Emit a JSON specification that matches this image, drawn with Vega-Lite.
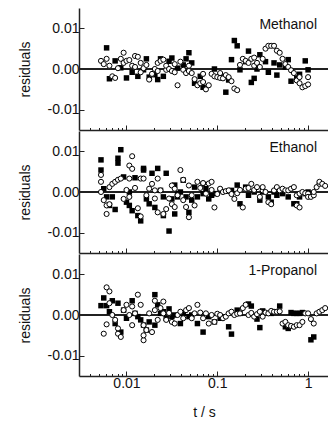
{
"$schema":"https://vega.github.io/schema/vega-lite/v6.json",
"padding":{"left":18,"top":8,"right":0,"bottom":0},
"spacing":0,
"config":{"font":"Liberation Sans","view":{"stroke":null},
"axis":{"grid":false,"labelFontSize":14,"titleFontSize":14,"labelColor":"#111","titleColor":"#111","titleFontWeight":"normal","domainColor":"#222","domainWidth":1.5,"tickColor":"#222","tickWidth":1},
"title":{"fontSize":14,"fontWeight":"normal","color":"#111"}},
"datasets":{
"methanol":[
{"s":"c","t":0.00524,"r":0.002},{"s":"c","t":0.00562,"r":0.0012},{"s":"c","t":0.00604,"r":0.0025},{"s":"c","t":0.00649,"r":0.0008},{"s":"c","t":0.00698,"r":-0.0018},{"s":"c","t":0.0075,"r":-0.0022},{"s":"c","t":0.00806,"r":0.0002},{"s":"c","t":0.00866,"r":0.0025},{"s":"c","t":0.0093,"r":0.004},{"s":"c","t":0.0093,"r":0.0015},{"s":"c","t":0.01,"r":0.002},{"s":"c","t":0.01075,"r":0.0022},{"s":"c","t":0.01155,"r":0.0008},{"s":"c","t":0.01242,"r":0.0032},{"s":"c","t":0.01242,"r":0.0005},{"s":"c","t":0.01334,"r":0.003},{"s":"c","t":0.01434,"r":-0.0008},{"s":"c","t":0.01434,"r":0.0015},{"s":"c","t":0.01542,"r":0.0002},{"s":"c","t":0.01657,"r":0.001},{"s":"c","t":0.01778,"r":-0.0026},{"s":"c","t":0.01911,"r":-0.0012},{"s":"c","t":0.02054,"r":0.0},{"s":"c","t":0.02207,"r":0.0015},{"s":"c","t":0.02207,"r":-0.0005},{"s":"c","t":0.02371,"r":0.002},{"s":"c","t":0.02548,"r":0.0023},{"s":"c","t":0.02738,"r":-0.0002},{"s":"c","t":0.02738,"r":0.0008},{"s":"c","t":0.02943,"r":0.0},{"s":"c","t":0.03162,"r":-0.0005},{"s":"c","t":0.03398,"r":-0.0008},{"s":"c","t":0.03398,"r":0.0012},{"s":"c","t":0.03652,"r":-0.004},{"s":"c","t":0.03924,"r":0.0018},{"s":"c","t":0.04217,"r":-0.0002},{"s":"c","t":0.04532,"r":-0.001},{"s":"c","t":0.0487,"r":-0.0005},{"s":"c","t":0.0487,"r":0.0008},{"s":"c","t":0.05233,"r":-0.001},{"s":"c","t":0.05623,"r":-0.0025},{"s":"c","t":0.06043,"r":-0.004},{"s":"c","t":0.06494,"r":-0.0035},{"s":"c","t":0.06978,"r":-0.0032},{"s":"c","t":0.06978,"r":-0.0012},{"s":"c","t":0.07499,"r":-0.005},{"s":"c","t":0.08058,"r":-0.004},{"s":"c","t":0.0866,"r":-0.0012},{"s":"c","t":0.09306,"r":-0.0018},{"s":"c","t":0.1,"r":-0.002},{"s":"c","t":0.1075,"r":-0.001},{"s":"c","t":0.1075,"r":-0.0022},{"s":"c","t":0.1155,"r":-0.0023},{"s":"c","t":0.1242,"r":-0.0015},{"s":"c","t":0.1334,"r":-0.002},{"s":"c","t":0.1434,"r":-0.003},{"s":"c","t":0.1542,"r":-0.0048},{"s":"c","t":0.1657,"r":-0.0052},{"s":"c","t":0.1778,"r":0.001},{"s":"c","t":0.1911,"r":0.0025},{"s":"c","t":0.2054,"r":0.002},{"s":"c","t":0.2207,"r":0.0015},{"s":"c","t":0.2371,"r":0.0025},{"s":"c","t":0.2548,"r":0.0028},{"s":"c","t":0.2548,"r":0.0008},{"s":"c","t":0.2738,"r":0.0015},{"s":"c","t":0.2943,"r":0.0005},{"s":"c","t":0.3162,"r":0.0025},{"s":"c","t":0.3398,"r":0.005},{"s":"c","t":0.3652,"r":0.0057},{"s":"c","t":0.3924,"r":0.0057},{"s":"c","t":0.4217,"r":0.0057},{"s":"c","t":0.4532,"r":0.0045},{"s":"c","t":0.487,"r":0.004},{"s":"c","t":0.5233,"r":0.0025},{"s":"c","t":0.5623,"r":0.0012},{"s":"c","t":0.6043,"r":0.0005},{"s":"c","t":0.6494,"r":-0.0003},{"s":"c","t":0.6978,"r":-0.001},{"s":"c","t":0.7499,"r":-0.0028},{"s":"c","t":0.8058,"r":-0.0035},{"s":"c","t":0.8058,"r":-0.002},{"s":"c","t":0.866,"r":-0.0045},{"s":"c","t":0.9306,"r":-0.0042},{"s":"c","t":1.0,"r":-0.0038},{"s":"c","t":1.0,"r":-0.002},
{"s":"q","t":0.00604,"r":0.0052},{"s":"q","t":0.00649,"r":-0.0024},{"s":"q","t":0.0075,"r":0.002},{"s":"q","t":0.00866,"r":0.0003},{"s":"q","t":0.01,"r":-0.0022},{"s":"q","t":0.01155,"r":-0.0008},{"s":"q","t":0.01334,"r":-0.0018},{"s":"q","t":0.01542,"r":-0.0002},{"s":"q","t":0.01657,"r":0.0025},{"s":"q","t":0.01778,"r":-0.002},{"s":"q","t":0.02054,"r":-0.0014},{"s":"q","t":0.02207,"r":-0.0026},{"s":"q","t":0.02371,"r":0.0025},{"s":"q","t":0.02548,"r":-0.0018},{"s":"q","t":0.02943,"r":0.0019},{"s":"q","t":0.03162,"r":0.0027},{"s":"q","t":0.03652,"r":0.0002},{"s":"q","t":0.04217,"r":0.001},{"s":"q","t":0.04532,"r":0.0025},{"s":"q","t":0.0487,"r":0.004},{"s":"q","t":0.05233,"r":0.0015},{"s":"q","t":0.05623,"r":-0.0035},{"s":"q","t":0.06494,"r":-0.0018},{"s":"q","t":0.06978,"r":-0.0045},{"s":"q","t":0.09306,"r":0.0},{"s":"q","t":0.1075,"r":-0.0015},{"s":"q","t":0.1242,"r":-0.0057},{"s":"q","t":0.1334,"r":-0.0027},{"s":"q","t":0.1434,"r":0.0023},{"s":"q","t":0.1542,"r":0.007},{"s":"q","t":0.1657,"r":0.0057},{"s":"q","t":0.1778,"r":-0.0002},{"s":"q","t":0.2054,"r":0.0018},{"s":"q","t":0.2207,"r":0.0044},{"s":"q","t":0.2371,"r":-0.0033},{"s":"q","t":0.2548,"r":-0.0023},{"s":"q","t":0.2738,"r":0.0},{"s":"q","t":0.2943,"r":0.0035},{"s":"q","t":0.3398,"r":0.0018},{"s":"q","t":0.3652,"r":-0.0008},{"s":"q","t":0.4217,"r":0.0015},{"s":"q","t":0.4532,"r":-0.0015},{"s":"q","t":0.487,"r":0.001},{"s":"q","t":0.5623,"r":0.0005},{"s":"q","t":0.6043,"r":0.0023},{"s":"q","t":0.6494,"r":-0.003},{"s":"q","t":0.7499,"r":-0.0022},{"s":"q","t":0.8058,"r":-0.0013},{"s":"q","t":0.9306,"r":0.002},{"s":"q","t":1.0,"r":-0.0002}
],
"ethanol":[
{"s":"c","t":0.00524,"r":0.0042},{"s":"c","t":0.00524,"r":0.0025},{"s":"c","t":0.00524,"r":0.0},{"s":"c","t":0.00562,"r":-0.002},{"s":"c","t":0.00604,"r":-0.0033},{"s":"c","t":0.00604,"r":-0.0054},{"s":"c","t":0.00649,"r":-0.003},{"s":"c","t":0.00649,"r":0.0012},{"s":"c","t":0.00698,"r":0.002},{"s":"c","t":0.0075,"r":0.0025},{"s":"c","t":0.00806,"r":0.003},{"s":"c","t":0.00866,"r":0.0033},{"s":"c","t":0.0093,"r":-0.0017},{"s":"c","t":0.01,"r":0.0005},{"s":"c","t":0.01075,"r":-0.0012},{"s":"c","t":0.01075,"r":0.0033},{"s":"c","t":0.01075,"r":0.0065},{"s":"c","t":0.01155,"r":0.0057},{"s":"c","t":0.01155,"r":0.0088},{"s":"c","t":0.01242,"r":0.001},{"s":"c","t":0.01334,"r":-0.004},{"s":"c","t":0.01434,"r":-0.006},{"s":"c","t":0.01434,"r":0.0033},{"s":"c","t":0.01542,"r":0.0033},{"s":"c","t":0.01657,"r":-0.0008},{"s":"c","t":0.01778,"r":0.0008},{"s":"c","t":0.01911,"r":0.002},{"s":"c","t":0.02054,"r":0.0004},{"s":"c","t":0.02054,"r":-0.0016},{"s":"c","t":0.02207,"r":0.0033},{"s":"c","t":0.02207,"r":-0.005},{"s":"c","t":0.02371,"r":0.0004},{"s":"c","t":0.02548,"r":-0.0054},{"s":"c","t":0.02738,"r":-0.0042},{"s":"c","t":0.02943,"r":-0.0016},{"s":"c","t":0.03162,"r":0.0016},{"s":"c","t":0.03162,"r":-0.003},{"s":"c","t":0.03398,"r":0.0008},{"s":"c","t":0.03398,"r":-0.0037},{"s":"c","t":0.03652,"r":-0.0008},{"s":"c","t":0.03924,"r":0.0054},{"s":"c","t":0.04217,"r":0.003},{"s":"c","t":0.04217,"r":-0.002},{"s":"c","t":0.04532,"r":-0.0037},{"s":"c","t":0.0487,"r":-0.0062},{"s":"c","t":0.0487,"r":0.0016},{"s":"c","t":0.05233,"r":-0.0008},{"s":"c","t":0.05623,"r":-0.0033},{"s":"c","t":0.06043,"r":0.0025},{"s":"c","t":0.06494,"r":0.001},{"s":"c","t":0.06978,"r":0.0021},{"s":"c","t":0.06978,"r":0.0022},{"s":"c","t":0.07499,"r":-0.0004},{"s":"c","t":0.08058,"r":0.0021},{"s":"c","t":0.0866,"r":0.0025},{"s":"c","t":0.0866,"r":0.0005},{"s":"c","t":0.09306,"r":-0.0038},{"s":"c","t":0.1,"r":-0.0005},{"s":"c","t":0.1075,"r":0.0008},{"s":"c","t":0.1155,"r":0.0},{"s":"c","t":0.1242,"r":0.0002},{"s":"c","t":0.1334,"r":0.0004},{"s":"c","t":0.1434,"r":-0.0005},{"s":"c","t":0.1542,"r":-0.0017},{"s":"c","t":0.1657,"r":-0.0003},{"s":"c","t":0.1778,"r":0.0005},{"s":"c","t":0.1911,"r":-0.0038},{"s":"c","t":0.2054,"r":0.0008},{"s":"c","t":0.2207,"r":0.001},{"s":"c","t":0.2371,"r":0.002},{"s":"c","t":0.2548,"r":0.0005},{"s":"c","t":0.2738,"r":0.0012},{"s":"c","t":0.2943,"r":-0.0012},{"s":"c","t":0.3162,"r":0.0004},{"s":"c","t":0.3162,"r":0.0012},{"s":"c","t":0.3398,"r":0.0},{"s":"c","t":0.3652,"r":-0.0025},{"s":"c","t":0.3924,"r":-0.003},{"s":"c","t":0.4217,"r":0.0004},{"s":"c","t":0.4532,"r":0.0012},{"s":"c","t":0.487,"r":0.0004},{"s":"c","t":0.5233,"r":0.0008},{"s":"c","t":0.5623,"r":0.0004},{"s":"c","t":0.6043,"r":0.0004},{"s":"c","t":0.6494,"r":0.0008},{"s":"c","t":0.6978,"r":0.0012},{"s":"c","t":0.7499,"r":-0.0008},{"s":"c","t":0.7499,"r":-0.0033},{"s":"c","t":0.8058,"r":-0.0038},{"s":"c","t":0.8058,"r":-0.0004},{"s":"c","t":0.866,"r":0.0},{"s":"c","t":0.9306,"r":-0.0003},{"s":"c","t":1.0,"r":-0.0004},{"s":"c","t":1.0,"r":-0.0012},{"s":"c","t":1.075,"r":-0.0012},{"s":"c","t":1.155,"r":-0.0008},{"s":"c","t":1.155,"r":0.0},{"s":"c","t":1.242,"r":0.0012},{"s":"c","t":1.334,"r":0.002},{"s":"c","t":1.334,"r":0.0025},{"s":"c","t":1.434,"r":0.002},{"s":"c","t":1.542,"r":0.0015},
{"s":"q","t":0.00524,"r":0.0079},{"s":"q","t":0.00524,"r":0.0054},{"s":"q","t":0.00562,"r":0.0008},{"s":"q","t":0.00604,"r":-0.0012},{"s":"q","t":0.00649,"r":-0.0033},{"s":"q","t":0.00698,"r":-0.0012},{"s":"q","t":0.0075,"r":-0.0043},{"s":"q","t":0.00806,"r":0.0083},{"s":"q","t":0.00806,"r":0.0071},{"s":"q","t":0.00866,"r":0.0104},{"s":"q","t":0.0093,"r":0.0037},{"s":"q","t":0.01,"r":-0.0025},{"s":"q","t":0.01075,"r":0.0},{"s":"q","t":0.01075,"r":-0.0033},{"s":"q","t":0.01155,"r":-0.0046},{"s":"q","t":0.01242,"r":0.0035},{"s":"q","t":0.01334,"r":-0.0058},{"s":"q","t":0.01434,"r":-0.0071},{"s":"q","t":0.01542,"r":0.0058},{"s":"q","t":0.01542,"r":0.0054},{"s":"q","t":0.01657,"r":-0.0017},{"s":"q","t":0.01778,"r":-0.0029},{"s":"q","t":0.01911,"r":0.0046},{"s":"q","t":0.02054,"r":-0.0038},{"s":"q","t":0.02207,"r":0.0058},{"s":"q","t":0.02371,"r":0.0004},{"s":"q","t":0.02548,"r":-0.0012},{"s":"q","t":0.02548,"r":-0.0058},{"s":"q","t":0.02738,"r":0.0046},{"s":"q","t":0.02943,"r":-0.0096},{"s":"q","t":0.03162,"r":-0.0017},{"s":"q","t":0.03398,"r":-0.0054},{"s":"q","t":0.03398,"r":0.0017},{"s":"q","t":0.03652,"r":-0.0004},{"s":"q","t":0.03652,"r":-0.0012},{"s":"q","t":0.03924,"r":0.0},{"s":"q","t":0.04217,"r":0.0029},{"s":"q","t":0.04532,"r":-0.0012},{"s":"q","t":0.0487,"r":-0.005},{"s":"q","t":0.05233,"r":-0.002},{"s":"q","t":0.05623,"r":0.0012},{"s":"q","t":0.06043,"r":-0.0012},{"s":"q","t":0.06978,"r":-0.0004},{"s":"q","t":0.07499,"r":0.0008},{"s":"q","t":0.08058,"r":-0.0017},{"s":"q","t":0.0866,"r":-0.0008},{"s":"q","t":0.09306,"r":-0.0004},{"s":"q","t":0.1075,"r":0.0004},{"s":"q","t":0.1334,"r":0.0002},{"s":"q","t":0.1434,"r":0.0004},{"s":"q","t":0.1657,"r":0.0017},{"s":"q","t":0.1778,"r":-0.0029},{"s":"q","t":0.2054,"r":0.0012},{"s":"q","t":0.2207,"r":-0.0008},{"s":"q","t":0.2548,"r":0.0},{"s":"q","t":0.2943,"r":-0.002},{"s":"q","t":0.3162,"r":0.0},{"s":"q","t":0.3652,"r":-0.0012},{"s":"q","t":0.3924,"r":-0.0025},{"s":"q","t":0.4217,"r":0.0},{"s":"q","t":0.4532,"r":-0.0008},{"s":"q","t":0.5233,"r":-0.0004},{"s":"q","t":0.6043,"r":-0.0012},{"s":"q","t":0.6978,"r":-0.0029},{"s":"q","t":0.7499,"r":-0.0029},{"s":"q","t":0.8058,"r":-0.0012},{"s":"q","t":0.9306,"r":-0.0004},{"s":"q","t":1.0,"r":0.0}
],
"propanol":[
{"s":"c","t":0.00562,"r":-0.0046},{"s":"c","t":0.00604,"r":-0.0023},{"s":"c","t":0.00604,"r":0.0068},{"s":"c","t":0.00649,"r":0.0058},{"s":"c","t":0.00649,"r":0.0029},{"s":"c","t":0.00698,"r":0.0},{"s":"c","t":0.0075,"r":-0.0012},{"s":"c","t":0.00806,"r":-0.0033},{"s":"c","t":0.00806,"r":-0.0046},{"s":"c","t":0.00866,"r":-0.0054},{"s":"c","t":0.0093,"r":0.0012},{"s":"c","t":0.01,"r":0.0025},{"s":"c","t":0.01075,"r":0.0},{"s":"c","t":0.01155,"r":0.0021},{"s":"c","t":0.01155,"r":-0.0025},{"s":"c","t":0.01242,"r":0.0004},{"s":"c","t":0.01334,"r":0.005},{"s":"c","t":0.01434,"r":0.0025},{"s":"c","t":0.01542,"r":-0.0025},{"s":"c","t":0.01542,"r":-0.0062},{"s":"c","t":0.01542,"r":-0.005},{"s":"c","t":0.01657,"r":-0.0037},{"s":"c","t":0.01778,"r":0.0004},{"s":"c","t":0.01911,"r":-0.0042},{"s":"c","t":0.02054,"r":0.0035},{"s":"c","t":0.02054,"r":0.0012},{"s":"c","t":0.02207,"r":-0.0012},{"s":"c","t":0.02371,"r":0.0017},{"s":"c","t":0.02548,"r":0.0004},{"s":"c","t":0.02548,"r":0.0033},{"s":"c","t":0.02738,"r":-0.0012},{"s":"c","t":0.02943,"r":0.0005},{"s":"c","t":0.03162,"r":-0.0017},{"s":"c","t":0.03398,"r":-0.0021},{"s":"c","t":0.03652,"r":0.0},{"s":"c","t":0.03924,"r":0.0008},{"s":"c","t":0.04217,"r":-0.0008},{"s":"c","t":0.04532,"r":0.0012},{"s":"c","t":0.0487,"r":0.0017},{"s":"c","t":0.05233,"r":-0.0008},{"s":"c","t":0.05623,"r":0.0004},{"s":"c","t":0.06043,"r":0.0025},{"s":"c","t":0.06494,"r":0.0006},{"s":"c","t":0.06978,"r":-0.0008},{"s":"c","t":0.07499,"r":0.0004},{"s":"c","t":0.08058,"r":-0.0021},{"s":"c","t":0.0866,"r":0.0},{"s":"c","t":0.09306,"r":-0.0017},{"s":"c","t":0.1,"r":0.0003},{"s":"c","t":0.1075,"r":0.0},{"s":"c","t":0.1155,"r":-0.0008},{"s":"c","t":0.1242,"r":-0.0004},{"s":"c","t":0.1334,"r":0.0004},{"s":"c","t":0.1434,"r":0.0008},{"s":"c","t":0.1542,"r":0.0},{"s":"c","t":0.1657,"r":0.0003},{"s":"c","t":0.1778,"r":0.0004},{"s":"c","t":0.1911,"r":0.0017},{"s":"c","t":0.2054,"r":0.0025},{"s":"c","t":0.2207,"r":0.0},{"s":"c","t":0.2371,"r":0.0005},{"s":"c","t":0.2548,"r":-0.0004},{"s":"c","t":0.2738,"r":0.0002},{"s":"c","t":0.2943,"r":0.0008},{"s":"c","t":0.3162,"r":-0.0004},{"s":"c","t":0.3398,"r":0.0006},{"s":"c","t":0.3652,"r":0.0004},{"s":"c","t":0.3924,"r":0.001},{"s":"c","t":0.4217,"r":0.0008},{"s":"c","t":0.4532,"r":0.0008},{"s":"c","t":0.487,"r":0.0009},{"s":"c","t":0.5233,"r":-0.0021},{"s":"c","t":0.5623,"r":-0.0017},{"s":"c","t":0.6043,"r":-0.0025},{"s":"c","t":0.6494,"r":-0.0027},{"s":"c","t":0.6978,"r":-0.0029},{"s":"c","t":0.7499,"r":-0.0025},{"s":"c","t":0.8058,"r":-0.0025},{"s":"c","t":0.866,"r":-0.0017},{"s":"c","t":0.9306,"r":0.0004},{"s":"c","t":1.0,"r":0.0004},{"s":"c","t":1.075,"r":-0.001},{"s":"c","t":1.155,"r":-0.0021},{"s":"c","t":1.242,"r":0.0004},{"s":"c","t":1.334,"r":0.0008},{"s":"c","t":1.434,"r":0.0012},{"s":"c","t":1.542,"r":0.0017},
{"s":"q","t":0.00524,"r":0.0023},{"s":"q","t":0.00562,"r":0.0042},{"s":"q","t":0.00604,"r":0.0023},{"s":"q","t":0.00649,"r":0.0008},{"s":"q","t":0.00698,"r":0.0035},{"s":"q","t":0.0075,"r":-0.0021},{"s":"q","t":0.00806,"r":0.0029},{"s":"q","t":0.00866,"r":-0.0042},{"s":"q","t":0.0093,"r":0.0012},{"s":"q","t":0.01,"r":-0.0008},{"s":"q","t":0.01155,"r":0.0035},{"s":"q","t":0.01242,"r":0.0004},{"s":"q","t":0.01334,"r":-0.0004},{"s":"q","t":0.01434,"r":-0.0012},{"s":"q","t":0.01542,"r":-0.0025},{"s":"q","t":0.01657,"r":-0.0037},{"s":"q","t":0.01778,"r":-0.0017},{"s":"q","t":0.02054,"r":-0.0025},{"s":"q","t":0.02054,"r":0.005},{"s":"q","t":0.02207,"r":0.0025},{"s":"q","t":0.02371,"r":0.0004},{"s":"q","t":0.02548,"r":0.0008},{"s":"q","t":0.02738,"r":-0.0008},{"s":"q","t":0.02943,"r":0.0015},{"s":"q","t":0.03162,"r":-0.0004},{"s":"q","t":0.03398,"r":0.0},{"s":"q","t":0.03924,"r":-0.0021},{"s":"q","t":0.04217,"r":0.0004},{"s":"q","t":0.0487,"r":-0.0004},{"s":"q","t":0.05233,"r":0.0},{"s":"q","t":0.06043,"r":-0.0021},{"s":"q","t":0.06978,"r":-0.0042},{"s":"q","t":0.08058,"r":-0.0004},{"s":"q","t":0.09306,"r":-0.0017},{"s":"q","t":0.1075,"r":-0.0008},{"s":"q","t":0.1334,"r":-0.0029},{"s":"q","t":0.1434,"r":-0.0047},{"s":"q","t":0.1657,"r":0.0012},{"s":"q","t":0.1778,"r":0.0004},{"s":"q","t":0.2207,"r":0.0027},{"s":"q","t":0.2371,"r":0.0022},{"s":"q","t":0.2738,"r":-0.001},{"s":"q","t":0.2943,"r":-0.0031},{"s":"q","t":0.3162,"r":0.001},{"s":"q","t":0.3924,"r":0.0004},{"s":"q","t":0.4532,"r":0.0008},{"s":"q","t":0.487,"r":0.0022},{"s":"q","t":0.5623,"r":-0.0029},{"s":"q","t":0.6043,"r":-0.0033},{"s":"q","t":0.6494,"r":0.0006},{"s":"q","t":0.6978,"r":0.0004},{"s":"q","t":0.7499,"r":0.0004},{"s":"q","t":0.8058,"r":0.0004},{"s":"q","t":0.866,"r":0.0006},{"s":"q","t":1.075,"r":-0.0061},{"s":"q","t":1.155,"r":-0.0054}
]},
"vconcat":[
{"width":250,"height":122,"data":{"name":"methanol"},
"title":{"text":"Methanol","anchor":"end","orient":"top","frame":"group","baseline":"alphabetic","offset":-35,"dx":-12},
"layer":[
{"mark":{"type":"rule","color":"#222","strokeWidth":1.5},"encoding":{"y":{"datum":0,"type":"quantitative"}}},
{"transform":[{"filter":"datum.s=='q'"}],"mark":{"type":"square","filled":true,"color":"#000","size":30,"opacity":1,"clip":true},
"encoding":{"x":{"field":"t","type":"quantitative","scale":{"type":"log","domain":[0.003,1.7],"nice":false},"axis":{"orient":"bottom","labels":false,"title":null,"values":[0.004,0.005,0.006,0.007,0.008,0.009,0.01,0.02,0.03,0.04,0.05,0.06,0.07,0.08,0.09,0.1,0.2,0.3,0.4,0.5,0.6,0.7,0.8,0.9,1],"tickSize":{"condition":{"test":"datum.value==0.01||datum.value==0.1||datum.value==1","value":-5},"value":-2.5}}},
"y":{"field":"r","type":"quantitative","scale":{"domain":[-0.015,0.015],"nice":false},"axis":{"title":"residuals","values":[-0.01,-0.005,0,0.005,0.01],"labelExpr":"abs(datum.value)==0.005 ? '' : (datum.value<0 ? '-' : '') + format(abs(datum.value),'.2f')","tickSize":{"condition":{"test":"abs(datum.value)!=0.005","value":-5},"value":-2.5},"labelPadding":5,"titlePadding":15}}}},
{"transform":[{"filter":"datum.s=='c'"}],"mark":{"type":"point","shape":"circle","fill":"#fff","stroke":"#000","strokeWidth":1,"size":26,"opacity":1,"clip":true},
"encoding":{"x":{"field":"t","type":"quantitative"},"y":{"field":"r","type":"quantitative"}}}
]},
{"width":250,"height":122,"data":{"name":"ethanol"},
"title":{"text":"Ethanol","anchor":"end","orient":"top","frame":"group","baseline":"alphabetic","offset":-35,"dx":-12},
"layer":[
{"mark":{"type":"rule","color":"#222","strokeWidth":1.5},"encoding":{"y":{"datum":0,"type":"quantitative"}}},
{"transform":[{"filter":"datum.s=='q'"}],"mark":{"type":"square","filled":true,"color":"#000","size":30,"opacity":1,"clip":true},
"encoding":{"x":{"field":"t","type":"quantitative","scale":{"type":"log","domain":[0.003,1.7],"nice":false},"axis":{"orient":"bottom","labels":false,"title":null,"values":[0.004,0.005,0.006,0.007,0.008,0.009,0.01,0.02,0.03,0.04,0.05,0.06,0.07,0.08,0.09,0.1,0.2,0.3,0.4,0.5,0.6,0.7,0.8,0.9,1],"tickSize":{"condition":{"test":"datum.value==0.01||datum.value==0.1||datum.value==1","value":-5},"value":-2.5}}},
"y":{"field":"r","type":"quantitative","scale":{"domain":[-0.015,0.015],"nice":false},"axis":{"title":"residuals","values":[-0.01,-0.005,0,0.005,0.01],"labelExpr":"abs(datum.value)==0.005 ? '' : (datum.value<0 ? '-' : '') + format(abs(datum.value),'.2f')","tickSize":{"condition":{"test":"abs(datum.value)!=0.005","value":-5},"value":-2.5},"labelPadding":5,"titlePadding":15}}}},
{"transform":[{"filter":"datum.s=='c'"}],"mark":{"type":"point","shape":"circle","fill":"#fff","stroke":"#000","strokeWidth":1,"size":26,"opacity":1,"clip":true},
"encoding":{"x":{"field":"t","type":"quantitative"},"y":{"field":"r","type":"quantitative"}}}
]},
{"width":250,"height":122,"data":{"name":"propanol"},
"title":{"text":"1-Propanol","anchor":"end","orient":"top","frame":"group","baseline":"alphabetic","offset":-35,"dx":-12},
"layer":[
{"mark":{"type":"rule","color":"#222","strokeWidth":1.5},"encoding":{"y":{"datum":0,"type":"quantitative"}}},
{"transform":[{"filter":"datum.s=='q'"}],"mark":{"type":"square","filled":true,"color":"#000","size":30,"opacity":1,"clip":true},
"encoding":{"x":{"field":"t","type":"quantitative","scale":{"type":"log","domain":[0.003,1.7],"nice":false},"axis":{"orient":"bottom","title":"t / s","titlePadding":15,"labelPadding":5,"labelExpr":"datum.value==0.01 ? '0.01' : datum.value==0.1 ? '0.1' : datum.value==1 ? '1' : ''","values":[0.004,0.005,0.006,0.007,0.008,0.009,0.01,0.02,0.03,0.04,0.05,0.06,0.07,0.08,0.09,0.1,0.2,0.3,0.4,0.5,0.6,0.7,0.8,0.9,1],"tickSize":{"condition":{"test":"datum.value==0.01||datum.value==0.1||datum.value==1","value":-5},"value":-2.5}}},
"y":{"field":"r","type":"quantitative","scale":{"domain":[-0.015,0.015],"nice":false},"axis":{"title":"residuals","values":[-0.01,-0.005,0,0.005,0.01],"labelExpr":"abs(datum.value)==0.005 ? '' : (datum.value<0 ? '-' : '') + format(abs(datum.value),'.2f')","tickSize":{"condition":{"test":"abs(datum.value)!=0.005","value":-5},"value":-2.5},"labelPadding":5,"titlePadding":15}}}},
{"transform":[{"filter":"datum.s=='c'"}],"mark":{"type":"point","shape":"circle","fill":"#fff","stroke":"#000","strokeWidth":1,"size":26,"opacity":1,"clip":true},
"encoding":{"x":{"field":"t","type":"quantitative"},"y":{"field":"r","type":"quantitative"}}}
]}
]}
